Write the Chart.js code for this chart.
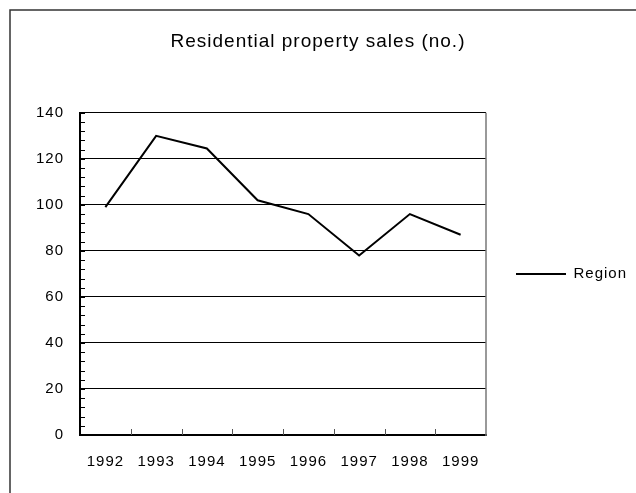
<!DOCTYPE html>
<html>
<head>
<meta charset="utf-8">
<script src="https://cdn.jsdelivr.net/npm/chart.js@4.4.1/dist/chart.umd.min.js"></script>
<style>
  html, body { margin: 0; padding: 0; background: #fff; }
  canvas { display: block; }
</style>
</head>
<body>
<canvas id="sales" width="636" height="493"></canvas>
<script>
const years = ['1992', '1993', '1994', '1995', '1996', '1997', '1998', '1999'];
const regionSales = [99, 130, 124.5, 102, 96, 78, 96, 87];
const yTicks = [0, 20, 40, 60, 80, 100, 120, 140];

Chart.defaults.font.family = '"Liberation Sans", Arial, sans-serif';
Chart.defaults.color = '#000';

// spaced-out lettering like the old spreadsheet export
function spacing(chart) {
	chart.ctx.letterSpacing = '1px';
}

const decor = {
	id: 'decor',
	beforeUpdate: spacing,
	beforeDraw: spacing,
	afterDraw(chart) {
		const ctx = chart.ctx;
		const area = chart.chartArea;
		const x = chart.scales.x;
		const y = chart.scales.y;
		ctx.save();

		// grey right edge of plot
		ctx.strokeStyle = '#777';
		ctx.lineWidth = 1.5;
		ctx.beginPath();
		ctx.moveTo(area.right, area.top);
		ctx.lineTo(area.right, area.bottom + 1);
		ctx.stroke();

		// minor ticks on value axis, pointing in
		ctx.strokeStyle = '#000';
		ctx.lineWidth = 1;
		for (let v = yTicks[0]; v <= yTicks[yTicks.length - 1]; v += 4) {
			const py = Math.round(y.getPixelForValue(v)) + 0.5;
			ctx.beginPath();
			ctx.moveTo(area.left, py);
			ctx.lineTo(area.left + 5, py);
			ctx.stroke();
		}

		// category ticks between the years
		ctx.strokeStyle = '#555';
		for (let i = 1; i < years.length; i++) {
			const px = Math.round((x.getPixelForValue(i - 1) + x.getPixelForValue(i)) / 2) + 0.5;
			ctx.beginPath();
			ctx.moveTo(px, area.bottom);
			ctx.lineTo(px, area.bottom - 6);
			ctx.stroke();
		}

		// outer frame (runs off the right and bottom)
		ctx.strokeStyle = '#333';
		ctx.lineWidth = 1.5;
		ctx.beginPath();
		ctx.moveTo(10, chart.height);
		ctx.lineTo(10, 10);
		ctx.lineTo(chart.width, 10);
		ctx.stroke();
		ctx.restore();
	}
};

new Chart(document.getElementById('sales'), {
	type: 'line',
	data: {
		labels: years,
		datasets: [{
			label: 'Region',
			data: regionSales,
			borderColor: '#000',
			backgroundColor: '#000',
			borderWidth: 2,
			pointRadius: 0,
			tension: 0,
			fill: false
		}]
	},
	options: {
		responsive: false,
		animation: false,
		devicePixelRatio: 1,
		layout: { padding: { left: 0, right: 0, top: 0, bottom: 0 } },
		plugins: {
			title: {
				display: true,
				text: 'Residential property sales (no.)',
				color: '#000',
				font: { size: 19, weight: 'normal' },
				padding: { top: 30, bottom: 60 }
			},
			legend: {
				position: 'right',
				fullSize: false,
				maxWidth: 150,
				labels: {
					usePointStyle: true,
					pointStyle: 'line',
					pointStyleWidth: 50,
					padding: 30,
					color: '#000',
					font: { size: 15 }
				}
			},
			tooltip: { enabled: false }
		},
		scales: {
			x: {
				offset: true,
				grid: { display: true, drawOnChartArea: false, drawTicks: false, color: '#000' },
				border: { display: true, color: '#000', width: 2 },
				ticks: { font: { size: 15 }, color: '#000', padding: 18, maxRotation: 0 },
				afterFit(scale) { scale.height = 58; }
			},
			y: {
				min: yTicks[0],
				max: yTicks[yTicks.length - 1],
				grid: { color: '#000', lineWidth: 1, drawTicks: false },
				border: { display: true, color: '#000', width: 2 },
				ticks: {
					stepSize: yTicks[1] - yTicks[0],
					font: { size: 15 },
					color: '#000',
					padding: 16
				},
				afterFit(scale) { scale.width = 80; }
			}
		}
	},
	plugins: [decor]
});
</script>
</body>
</html>
